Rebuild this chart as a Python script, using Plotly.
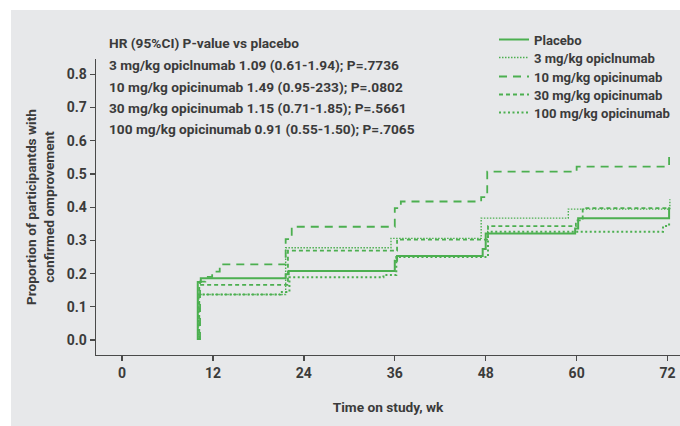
import plotly.graph_objects as go

# ---------------- data ----------------
placebo_wk = [10.0, 10.0, 10.4, 21.6, 22.0, 36.0, 36.3, 47.6, 48.0, 59.8, 60.2, 72.2]
placebo_p = [0.0, 0.175, 0.186, 0.198, 0.208, 0.239, 0.253, 0.274, 0.321, 0.336, 0.367, 0.400]

mg3_wk = [10.0, 10.0, 21.6, 35.5, 47.4, 58.9, 72.3]
mg3_p = [0.0, 0.137, 0.278, 0.306, 0.367, 0.394, 0.424]

mg10_wk = [10.3, 10.3, 11.0, 11.9, 12.9, 21.6, 22.4, 36.0, 36.8, 47.4, 48.2, 60.0, 72.2]
mg10_p = [0.0, 0.176, 0.190, 0.206, 0.228, 0.304, 0.341, 0.397, 0.417, 0.430, 0.507, 0.522, 0.554]

mg30_wk = [10.2, 10.2, 21.9, 36.3, 48.3, 59.9, 60.8, 72.2]
mg30_p = [0.0, 0.166, 0.269, 0.302, 0.343, 0.360, 0.397, 0.397]

mg100_wk = [10.1, 10.1, 20.9, 22.1, 34.5, 36.2, 48.3, 71.4, 72.2]
mg100_p = [0.0, 0.137, 0.145, 0.189, 0.196, 0.250, 0.326, 0.343, 0.355]

series_names = ["Placebo", "3 mg/kg opiclnumab", "10 mg/kg opicinumab",
                "30 mg/kg opicinumab", "100 mg/kg opicinumab"]

x_ticks = [0, 12, 24, 36, 48, 60, 72]
y_ticks = [0.0, 0.1, 0.2, 0.3, 0.4, 0.5, 0.6, 0.7, 0.8]

hr_lines = [
    "HR (95%CI) P-value vs placebo",
    "3 mg/kg opiclnumab 1.09 (0.61-1.94); P=.7736",
    "10 mg/kg opicinumab 1.49 (0.95-233); P=.0802",
    "30 mg/kg opicinumab 1.15 (0.71-1.85); P=.5661",
    "100 mg/kg opicinumab 0.91 (0.55-1.50); P=.7065",
]

# ---------------- styling ----------------
W, H = 680, 426
L, R, T = 96, 0, 59
B = H - 355
PW, PH = W - L - R, H - T - B
GREEN = "#4caf50"
TXT = "#3b3b3b"
AX = "#4a4a4a"
PANEL = "#e7e8ea"
FONT = "Roboto"
FS = 13.7
LFS = 13.1


def fx(px):  # window pixel -> paper x
    return (px - L) / PW


def fy(py):  # window pixel -> paper y
    return (H - B - py) / PH


styles = [
    dict(width=2.0, dash="solid"),
    dict(width=1.4, dash="1.5px,1.5px"),
    dict(width=1.8, dash="8px,6px"),
    dict(width=1.8, dash="4px,3px"),
    dict(width=2.0, dash="2px,2.5px"),
]
xs = [placebo_wk, mg3_wk, mg10_wk, mg30_wk, mg100_wk]
ys = [placebo_p, mg3_p, mg10_p, mg30_p, mg100_p]
legend_ids = ["legend", "legend2", "legend3", "legend4", "legend5"]
legend_rows = [40, 58, 77, 95, 113]

fig = go.Figure()
for name, x, y, st, lg in zip(series_names, xs, ys, styles, legend_ids):
    fig.add_trace(go.Scatter(
        x=x, y=y, name=name, mode="lines", legend=lg,
        line=dict(color=GREEN, width=st["width"], dash=st["dash"], shape="hv"),
        hoverinfo="skip",
    ))

# grey panel behind everything
fig.add_shape(type="rect", xref="paper", yref="paper",
              x0=fx(11), x1=fx(680), y0=fy(426), y1=fy(10),
              fillcolor=PANEL, line=dict(width=0), layer="below")

ann_y = [43, 65, 87, 108, 129]
for txt, py in zip(hr_lines, ann_y):
    fig.add_annotation(text=txt, xref="paper", yref="paper",
                       x=fx(107), y=fy(py), xanchor="left", yanchor="middle",
                       showarrow=False,
                       font=dict(family=FONT, size=FS, color=TXT, weight="bold"))

legend_font = dict(family=FONT, size=LFS, color=TXT, weight="bold")
legends = {}
for lg, py in zip(legend_ids, legend_rows):
    legends[lg] = dict(x=fx(494), y=fy(py), xanchor="left", yanchor="middle",
                       bgcolor="rgba(0,0,0,0)", borderwidth=0, font=legend_font)

fig.update_layout(
    width=W, height=H,
    margin=dict(l=L, r=R, t=T, b=B, pad=0),
    paper_bgcolor="white",
    plot_bgcolor=PANEL,
    font=dict(family=FONT, size=FS, color=TXT, weight="bold"),
    showlegend=True,
    **legends,
    xaxis=dict(
        range=[-3.43, 73.64], tickvals=x_ticks, ticktext=[str(v) for v in x_ticks],
        showline=True, linecolor=AX, linewidth=1.3,
        ticks="outside", ticklen=5, tickwidth=1.3, tickcolor=AX,
        showgrid=False, zeroline=False,
        tickfont=dict(family=FONT, size=14, color=TXT, weight="bold"),
        title=dict(text="Time on study, wk", standoff=22,
                   font=dict(family=FONT, size=FS, color=TXT, weight="bold")),
    ),
    yaxis=dict(
        range=[-0.045, 0.846], tickvals=y_ticks, ticktext=[f"{v:.1f}" for v in y_ticks],
        showline=True, linecolor=AX, linewidth=1.3,
        ticks="outside", ticklen=5, tickwidth=1.3, tickcolor=AX,
        showgrid=False, zeroline=False,
        tickfont=dict(family=FONT, size=14, color=TXT, weight="bold"),
        title=dict(text="Proportion of participantds with<br>confirmed omprovement",
                   standoff=9,
                   font=dict(family=FONT, size=FS, color=TXT, weight="bold")),
    ),
)

fig.write_html(
    "out.html",
    config={"displayModeBar": False, "staticPlot": True},
    post_script="document.body.style.margin='0';document.body.style.overflow='hidden';",
)
